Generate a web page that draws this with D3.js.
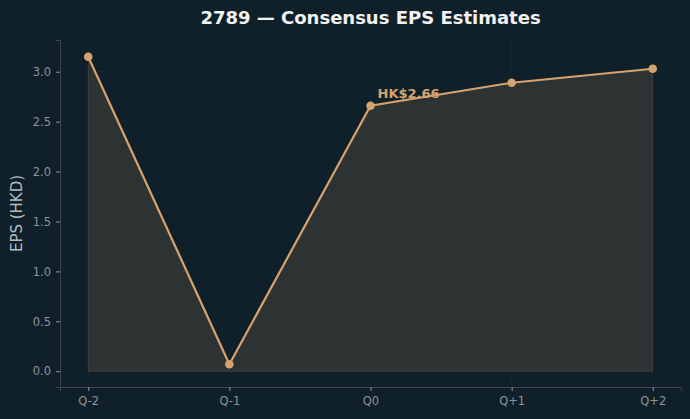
<!DOCTYPE html>
<html>
<head>
<meta charset="utf-8">
<script src="https://cdn.jsdelivr.net/npm/d3@7"></script>
<style>
  html, body { margin: 0; padding: 0; background: #10202a; }
  svg { display: block; font-family: "DejaVu Sans", sans-serif; }
</style>
</head>
<body>
<script>
// chart data
var quarters = ["Q-2", "Q-1", "Q0", "Q+1", "Q+2"];
var epsValues = [3.15, 0.07, 2.66, 2.89, 3.03];
var yTicks = [0.0, 0.5, 1.0, 1.5, 2.0, 2.5, 3.0];
var calloutIndex = 2;
var calloutLabel = "HK$2.66";

var w = 690, h = 419;
//plot edges (named so they don't clash with window.top)
var padL = 60, padR = 681, padT = 40, padB = 387;
var tan = "#d6a26e";

var data = quarters.map(function(q, i) { return { q: q, i: i, v: epsValues[i] }; });

//scales with matplotlib style margins
var x = d3.scaleLinear().domain([-0.2, 4.2]).range([padL, padR]);
var y = d3.scaleLinear().domain([-0.158, 3.318]).range([padB, padT]);

var svg = d3.select("body").append("svg")
    .attr("width", w)
    .attr("height", h);

svg.append("rect")
    .attr("width", w).attr("height", h)
    .style("fill", "#10202a");

//grid lines
svg.append("g").selectAll("line")
    .data(yTicks).enter().append("line")
    .attr("x1", padL).attr("x2", padR)
    .attr("y1", function(d) { return y(d); })
    .attr("y2", function(d) { return y(d); })
    .style("stroke", "#ffffff").style("stroke-opacity", 0.04).style("stroke-width", 0.8);

svg.append("g").selectAll("line")
    .data(data).enter().append("line")
    .attr("x1", function(d) { return x(d.i); })
    .attr("x2", function(d) { return x(d.i); })
    .attr("y1", padT).attr("y2", padB)
    .style("stroke", "#ffffff").style("stroke-opacity", 0.04).style("stroke-width", 0.8);

//area under the line
var area = d3.area()
    .x(function(d) { return x(d.i); })
    .y0(y(0))
    .y1(function(d) { return y(d.v); });

svg.append("path")
    .datum(data)
    .attr("d", area)
    .style("fill", tan).style("fill-opacity", 0.15)
    .style("stroke", tan).style("stroke-opacity", 0.15).style("stroke-width", 1);

//line
var line = d3.line()
    .x(function(d) { return x(d.i); })
    .y(function(d) { return y(d.v); });

svg.append("path")
    .datum(data)
    .attr("d", line)
    .style("fill", "none")
    .style("stroke", tan)
    .style("stroke-width", 2.2);

svg.selectAll(".dot")
    .data(data).enter().append("circle")
    .attr("class", "dot")
    .attr("cx", function(d) { return x(d.i); })
    .attr("cy", function(d) { return y(d.v); })
    .attr("r", 4.3)
    .style("fill", tan);

//callout label
svg.append("text")
    .attr("x", x(calloutIndex) + 7)
    .attr("y", y(epsValues[calloutIndex]) - 7.5)
    .style("fill", tan)
    .style("font-weight", "bold")
    .style("font-size", "13px")
    .text(calloutLabel);

//axes
var xAxis = d3.axisBottom(x)
    .tickValues(d3.range(quarters.length))
    .tickFormat(function(d) { return quarters[d]; })
    .tickSize(4).tickPadding(6);

var yAxis = d3.axisLeft(y)
    .tickValues(yTicks)
    .tickFormat(d3.format(".1f"))
    .tickSize(4).tickPadding(5);

var gx = svg.append("g")
    .attr("transform", "translate(0," + padB + ")")
    .call(xAxis);

var gy = svg.append("g")
    .attr("transform", "translate(" + padL + ",0)")
    .call(yAxis);

[gx, gy].forEach(function(g) {
    g.select(".domain").style("stroke", "#3d464b").style("stroke-width", 1);
    g.selectAll(".tick line").style("stroke", "#8a9499");
    g.selectAll(".tick text")
        .style("fill", "#8a9499")
        .style("font-size", "11.5px")
        .style("font-family", "DejaVu Sans");
});

//title
svg.append("text")
    .attr("x", (padL + padR) / 2)
    .attr("y", 24)
    .attr("text-anchor", "middle")
    .style("fill", "#f2f2f2")
    .style("font-weight", "bold")
    .style("font-size", "18px")
    .text("2789 \u2014 Consensus EPS Estimates");

//y label
svg.append("text")
    .attr("transform", "translate(22," + (padT + padB) / 2 + ") rotate(-90)")
    .attr("text-anchor", "middle")
    .style("fill", "#b3bbc0")
    .style("font-size", "15px")
    .text("EPS (HKD)");
</script>
</body>
</html>
